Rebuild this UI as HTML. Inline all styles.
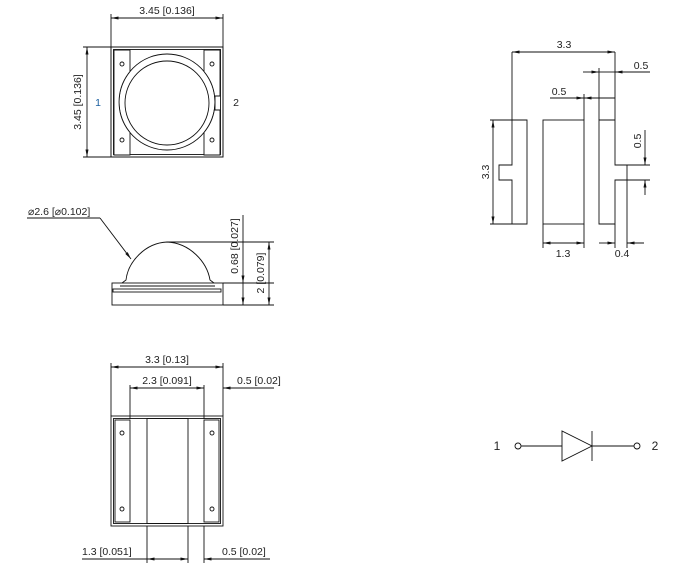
<!DOCTYPE html>
<html><head><meta charset="utf-8"><style>
html,body{margin:0;padding:0;background:#fff;}
svg{display:block;}
text{font-family:"Liberation Sans",Arial,sans-serif;font-size:10.5px;fill:#222;}
</style></head><body>
<svg width="676" height="569" viewBox="0 0 676 569" xmlns="http://www.w3.org/2000/svg">
<defs>
<marker id="a" viewBox="0 0 10 4" refX="10" refY="2" markerWidth="8" markerHeight="3" markerUnits="userSpaceOnUse" orient="auto-start-reverse"><path d="M0,0 L10,2 L0,4z" fill="#111"/></marker>
</defs>
<g stroke="#111" stroke-width="0.9" fill="none">
<!-- TOP VIEW -->
<rect x="111" y="47" width="112" height="110"/>
<rect x="113.5" y="49.5" width="107" height="105"/>
<circle cx="167" cy="102" r="48"/>
<circle cx="167" cy="103" r="42"/>
<path d="M114,50 H130 V71.5 A48 48 0 0 0 130 132.5 V155 H114 Z" fill="#fff"/>
<path d="M220,50 H204 V71.5 A48 48 0 0 1 204 132.5 V155 H220 V110 H215 V96 H220 Z" fill="#fff"/>
<rect x="111" y="47" width="112" height="110"/>
<circle cx="122" cy="64" r="2"/><circle cx="122" cy="140" r="2"/>
<circle cx="212" cy="64" r="2"/><circle cx="212" cy="140" r="2"/>
<line x1="111" y1="14" x2="111" y2="47"/><line x1="223" y1="14" x2="223" y2="47"/>
<line x1="111" y1="18" x2="223" y2="18" marker-start="url(#a)" marker-end="url(#a)"/>
<line x1="83" y1="47" x2="111" y2="47"/><line x1="83" y1="157" x2="111" y2="157"/>
<line x1="87" y1="47" x2="87" y2="157" marker-start="url(#a)" marker-end="url(#a)"/>

<!-- SIDE VIEW -->
<rect x="112" y="283" width="111" height="22"/>
<rect x="113" y="289" width="108" height="3"/>
<line x1="120" y1="286" x2="215" y2="286"/>
<path d="M122,283 L126,280 C128,262 145,243 167,242 C190,243 207,262 210,280 L214,283"/>
<line x1="27" y1="218" x2="100" y2="218"/>
<line x1="100" y1="218" x2="131" y2="259" marker-end="url(#a)"/>
<line x1="167" y1="242" x2="274" y2="242"/>
<line x1="223" y1="283" x2="274" y2="283"/>
<line x1="223" y1="305" x2="274" y2="305"/>
<line x1="243" y1="215" x2="243" y2="283" marker-end="url(#a)"/>
<line x1="243" y1="283" x2="243" y2="305" marker-end="url(#a)"/>
<line x1="269" y1="242" x2="269" y2="305" marker-start="url(#a)" marker-end="url(#a)"/>

<!-- RIGHT SIDE VIEW -->
<path d="M512,52 V120 H527 V224 H512 V180 H499 V165 H512 V120"/>
<rect x="543" y="120" width="41" height="104"/>
<path d="M615,52 V120 H599 V224 H615 V180 H627 V165 H615 V120"/>
<line x1="615" y1="224" x2="615" y2="248"/>
<line x1="627" y1="180" x2="627" y2="248"/>
<line x1="512" y1="52" x2="615" y2="52" marker-start="url(#a)" marker-end="url(#a)"/>
<line x1="599" y1="68" x2="599" y2="120"/>
<line x1="583" y1="72" x2="599" y2="72" marker-end="url(#a)"/>
<line x1="599" y1="72" x2="615" y2="72"/>
<line x1="650" y1="72" x2="615" y2="72" marker-end="url(#a)"/>
<line x1="584" y1="94" x2="584" y2="120"/>
<line x1="550" y1="98" x2="584" y2="98" marker-end="url(#a)"/>
<line x1="615" y1="98" x2="584" y2="98" marker-end="url(#a)"/>
<line x1="490" y1="120" x2="512" y2="120"/><line x1="490" y1="224" x2="512" y2="224"/>
<line x1="493" y1="120" x2="493" y2="224" marker-start="url(#a)" marker-end="url(#a)"/>
<line x1="627" y1="165" x2="650" y2="165"/><line x1="627" y1="180" x2="650" y2="180"/>
<line x1="645" y1="130" x2="645" y2="165" marker-end="url(#a)"/>
<line x1="645" y1="195" x2="645" y2="180" marker-end="url(#a)"/>
<line x1="543" y1="224" x2="543" y2="248"/><line x1="584" y1="224" x2="584" y2="248"/>
<line x1="543" y1="243" x2="584" y2="243" marker-start="url(#a)" marker-end="url(#a)"/>
<line x1="599" y1="243" x2="615" y2="243" marker-end="url(#a)"/>
<line x1="644" y1="243" x2="627" y2="243" marker-end="url(#a)"/>

<!-- BOTTOM VIEW -->
<rect x="111" y="416" width="112" height="110"/>
<rect x="113.5" y="418.5" width="107" height="105"/>
<rect x="115" y="420" width="15" height="102"/>
<rect x="204" y="420" width="15" height="102"/>
<rect x="147" y="418.5" width="41" height="105"/>
<circle cx="122" cy="433" r="2"/><circle cx="122" cy="509" r="2"/>
<circle cx="212" cy="433" r="2"/><circle cx="212" cy="509" r="2"/>
<line x1="111" y1="363" x2="111" y2="416"/><line x1="223" y1="363" x2="223" y2="416"/>
<line x1="111" y1="367" x2="223" y2="367" marker-start="url(#a)" marker-end="url(#a)"/>
<line x1="130" y1="385" x2="130" y2="419"/><line x1="204" y1="385" x2="204" y2="419"/>
<line x1="130" y1="388" x2="204" y2="388" marker-start="url(#a)" marker-end="url(#a)"/>
<line x1="274" y1="388" x2="223" y2="388" marker-end="url(#a)"/>
<line x1="147" y1="526" x2="147" y2="563"/><line x1="188" y1="526" x2="188" y2="563"/>
<line x1="204" y1="526" x2="204" y2="563"/>
<line x1="82" y1="559" x2="147" y2="559"/>
<line x1="147" y1="559" x2="188" y2="559" marker-start="url(#a)" marker-end="url(#a)"/>
<line x1="270" y1="559" x2="204" y2="559" marker-end="url(#a)"/>

<!-- DIODE -->
<circle cx="518" cy="446" r="3"/>
<line x1="521" y1="446" x2="562" y2="446"/>
<path d="M562,431 L562,461 L592,446 Z"/>
<line x1="592" y1="431" x2="592" y2="461"/>
<line x1="592" y1="446" x2="634" y2="446"/>
<circle cx="637" cy="446" r="3"/>
</g>

<!-- TEXT -->
<text x="167" y="14" text-anchor="middle">3.45 [0.136]</text>
<text transform="translate(81,102) rotate(-90)" text-anchor="middle">3.45 [0.136]</text>
<text x="98" y="106" text-anchor="middle" style="fill:#1a5fa0">1</text>
<text x="236" y="106" text-anchor="middle">2</text>

<text x="28" y="215">⌀2.6 [⌀0.102]</text>
<text transform="translate(238,246) rotate(-90)" text-anchor="middle">0.68 [0.027]</text>
<text transform="translate(264,273) rotate(-90)" text-anchor="middle">2 [0.079]</text>

<text x="564" y="48" text-anchor="middle">3.3</text>
<text x="641" y="69" text-anchor="middle">0.5</text>
<text x="559" y="95" text-anchor="middle">0.5</text>
<text transform="translate(489,172) rotate(-90)" text-anchor="middle">3.3</text>
<text transform="translate(641,141) rotate(-90)" text-anchor="middle">0.5</text>
<text x="563" y="257" text-anchor="middle">1.3</text>
<text x="622" y="257" text-anchor="middle">0.4</text>

<text x="167" y="363" text-anchor="middle">3.3 [0.13]</text>
<text x="167" y="384" text-anchor="middle">2.3 [0.091]</text>
<text x="237" y="384">0.5 [0.02]</text>
<text x="82" y="555">1.3 [0.051]</text>
<text x="222" y="555">0.5 [0.02]</text>

<text x="497" y="450" text-anchor="middle" style="font-size:12px">1</text>
<text x="655" y="450" text-anchor="middle" style="font-size:12px">2</text>
</svg>
</body></html>
